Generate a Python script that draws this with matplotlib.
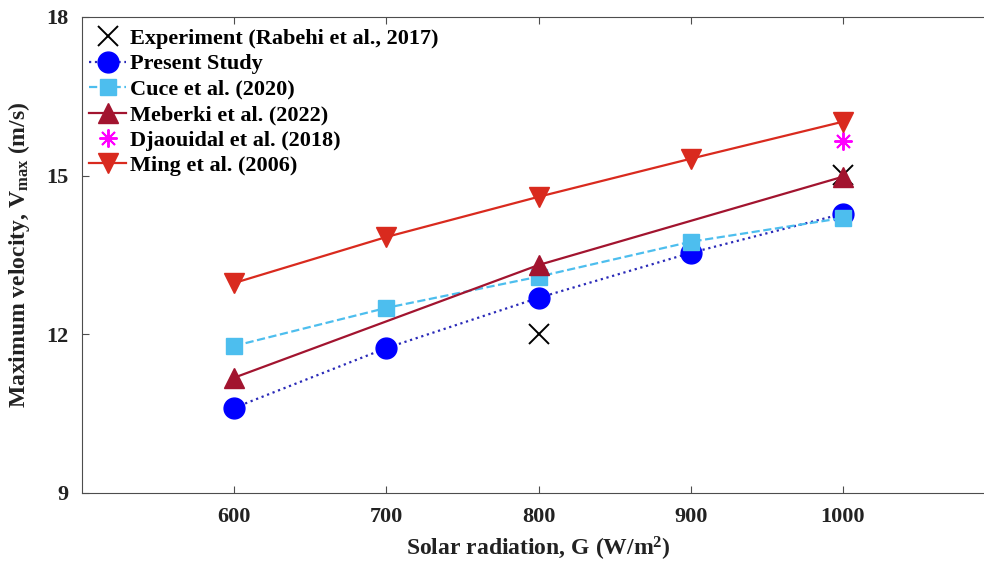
import matplotlib.pyplot as plt

### ===========================================================================
# data
G = [600, 700, 800, 900, 1000]
present_study = [10.61, 11.74, 12.69, 13.54, 14.28]
cuce_2020 = [11.78, 12.50, 13.09, 13.75, 14.20]
ming_2006 = [12.97, 13.84, 14.60, 15.32, 16.02]

G_meberki = [600, 800, 1000]
meberki_2022 = [11.18, 13.31, 14.98]

G_exp = [800, 1000]
experiment_2017 = [12.0, 15.02]

G_djaouidal = [1000]
djaouidal_2018 = [15.66]

xticks = [600, 700, 800, 900, 1000]
yticks = [9, 12, 15, 18]

params = {'font.family': ['Liberation Serif', 'DejaVu Serif'],
          'font.weight': 'bold',
          'axes.labelweight': 'bold',
          'axes.labelsize': 17,
          'xtick.labelsize': 16,
          'ytick.labelsize': 16,
          'legend.fontsize': 16,
          'xtick.direction': 'in',
          'ytick.direction': 'in',
          'xtick.top': True,
          'axes.linewidth': 0.8,
          'axes.edgecolor': '#4d4d4d'}
plt.rcParams.update(params)

fig = plt.figure(figsize=(9.84, 5.66), dpi=100)
# the right edge of the axes lies outside the cropped image
ax = fig.add_axes([0.0833, 0.129, 0.928, 0.841])
ax.spines['right'].set_visible(False)

ax.plot(G_exp, experiment_2017, linestyle='none', marker='x', color='black',
        markersize=14, markeredgewidth=1.4, label='Experiment (Rabehi et al., 2017)')
ax.plot(G, present_study, linestyle=':', color='#2a2ab8', linewidth=1.6,
        marker='o', markersize=15, markerfacecolor='#0000ff', markeredgecolor='#0000ff',
        label='Present Study')
ax.plot(G, cuce_2020, linestyle='--', color='#4dbeee', linewidth=1.6,
        marker='s', markersize=12, markerfacecolor='#4dbeee', markeredgecolor='#4dbeee',
        label='Cuce et al. (2020)')
ax.plot(G_meberki, meberki_2022, linestyle='-', color='#a2142f', linewidth=1.6,
        marker='^', markersize=15, markerfacecolor='#a2142f', markeredgecolor='#a2142f',
        label='Meberki et al. (2022)')
ax.plot(G_djaouidal, djaouidal_2018, linestyle='none', marker=(8, 2, 0), color='#ff00ff',
        markersize=13, markeredgewidth=1.4, label='Djaouidal et al. (2018)')
ax.plot(G, ming_2006, linestyle='-', color='#d92a1e', linewidth=1.6,
        marker='v', markersize=15, markerfacecolor='#d92a1e', markeredgecolor='#d92a1e',
        label='Ming et al. (2006)')

ax.set_xlim(500, 1100)
ax.set_ylim(9, 18)
ax.set_xticks(xticks)
ax.set_yticks(yticks)
ax.tick_params(length=5, width=0.8, colors='#4d4d4d', labelcolor='#222222', pad=10)

ax.set_xlabel(r'Solar radiation, G (W/m$\mathregular{^2}$)', color='#222222', labelpad=6)
ax.set_ylabel(r'Maximum velocity, V$\mathregular{_{max}}$ (m/s)', color='#222222', labelpad=10)

ax.legend(loc='upper left', bbox_to_anchor=(0.0, 0.99), frameon=False,
          handlelength=1.7, handletextpad=0.15, borderaxespad=0.1, borderpad=0.2,
          labelspacing=0.22)

fig.savefig('out.png', dpi=100)
